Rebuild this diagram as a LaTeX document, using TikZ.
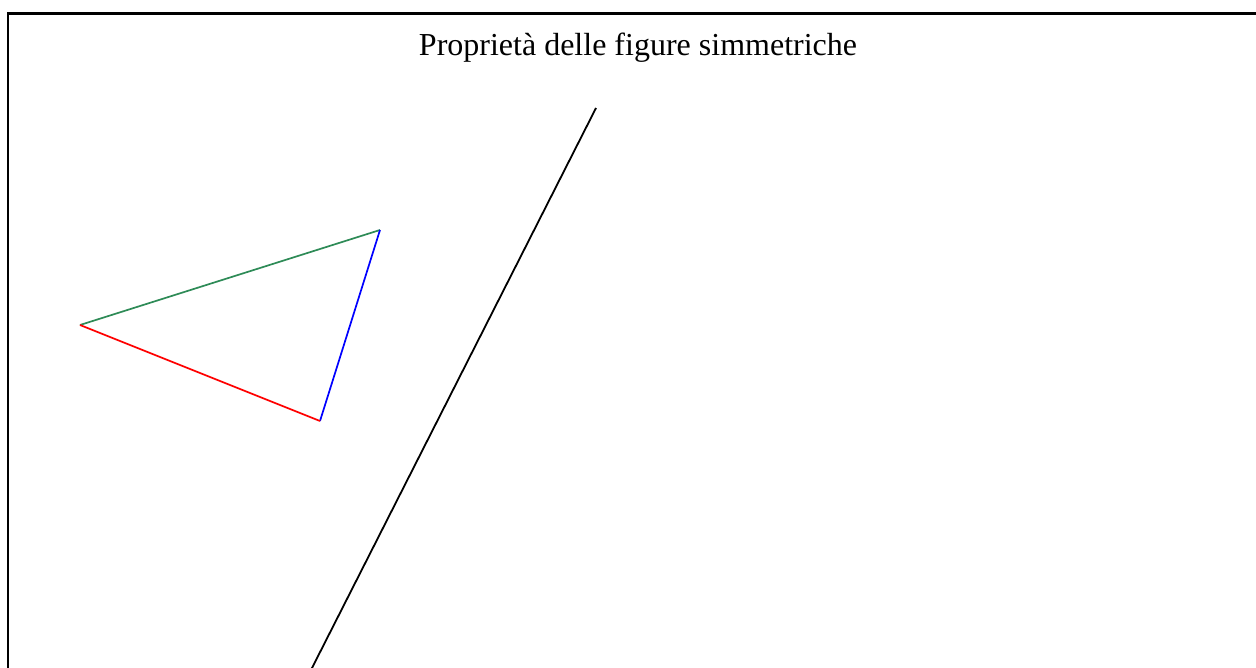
\documentclass[tikz,border=0pt]{standalone}
\usepackage{fontspec}
\setmainfont{Liberation Serif}
\usetikzlibrary{calc}
\definecolor{tgreen}{RGB}{46,139,87}
\begin{document}
\begin{tikzpicture}[x=1pt,y=-1pt,
  frame/.style={draw=black,line width=2.2pt},
  axisline/.style={draw=black,line width=1.8pt},
  side/.style={line width=1.7pt}]
\useasboundingbox (0,0) rectangle (1256,668);
\begin{scope}
\clip (0,0) rectangle (1256,668);
\draw[frame] (8,13.5) rectangle (1280,700);
\coordinate (P) at (596,108);
\coordinate (Q) at (312,668);
\draw[axisline] (P) -- ($(P)!1.05!(Q)$);
\coordinate (A) at (80,325);
\coordinate (B) at (380,230);
\coordinate (C) at (320,421);
\draw[side,draw=tgreen] (A) -- (B);
\draw[side,draw=blue] (B) -- (C);
\draw[side,draw=red] (C) -- (A);
\end{scope}
\node[anchor=base,font=\fontsize{32}{38}\selectfont,inner sep=0pt] (title) at (638,56) {Proprietà delle figure simmetriche};
\end{tikzpicture}
\end{document}
